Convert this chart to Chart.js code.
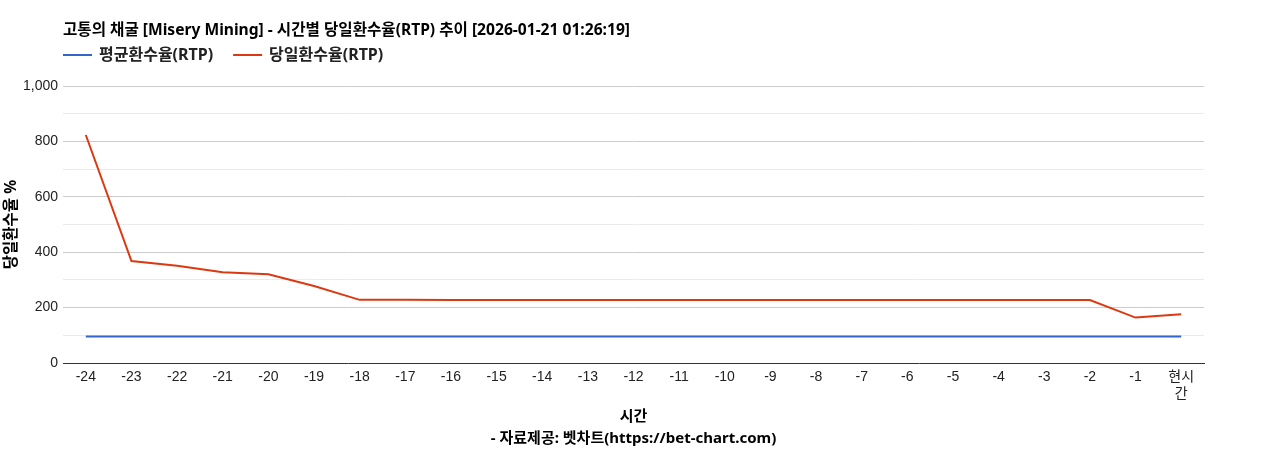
<!DOCTYPE html>
<html lang="ko">
<head>
    <meta charset="UTF-8">
    <title>고통의 채굴 - 시간별 당일환수율</title>
    <script src="https://cdn.jsdelivr.net/npm/chart.js"></script>
    <style>
        html, body { margin: 0; padding: 0; background: #fff; }
        #wrap { width: 1268px; height: 450px; position: relative; }
    </style>
</head>
<body>
    <div id="wrap">
        <canvas id="rtpChart" width="1268" height="450"></canvas>
    </div>

<script>
    var chartTitle = '고통의 채굴 [Misery Mining] - 시간별 당일환수율(RTP) 추이 [2026-01-21 01:26:19]';
    var xTitle = ['시간', '- 자료제공: 벳차트(https://bet-chart.com)'];
    var yTitle = '당일환수율 %';

    var hours = ['-24', '-23', '-22', '-21', '-20', '-19', '-18', '-17', '-16', '-15', '-14', '-13',
        '-12', '-11', '-10', '-9', '-8', '-7', '-6', '-5', '-4', '-3', '-2', '-1', ['현시', '간']];

    var avgLabel = '평균환수율(RTP)';
    var avgRtp = [96, 96, 96, 96, 96, 96, 96, 96, 96, 96, 96, 96,
        96, 96, 96, 96, 96, 96, 96, 96, 96, 96, 96, 96, 96];

    var dailyLabel = '당일환수율(RTP)';
    var dailyRtp = [823, 368, 351, 328, 320, 278, 228, 228, 227, 227, 227, 227,
        227, 227, 227, 227, 227, 227, 227, 227, 227, 227, 227, 164, 176];

    var krFont = '"Noto Sans", "Noto Sans CJK KR", sans-serif';
    var tickFont = 'Arial, "Liberation Sans", "Noto Sans CJK KR", sans-serif';

    // 제목 + 범례는 차트 영역 왼쪽에 맞춰 직접 그림
    var headerPlugin = {
        id: 'header',
        afterDraw: function (chart) {
            var ctx = chart.ctx;
            var left = chart.chartArea.left;
            ctx.save();
            ctx.fillStyle = '#000';
            ctx.textBaseline = 'middle';
            ctx.textAlign = 'left';
            ctx.font = 'bold 15.6px ' + krFont;
            ctx.fillText(chartTitle, left, 31);

            ctx.font = 'bold 16px ' + krFont;
            var x = left;
            chart.data.datasets.forEach(function (ds) {
                ctx.strokeStyle = ds.borderColor;
                ctx.lineWidth = 2;
                ctx.beginPath();
                ctx.moveTo(x, 55);
                ctx.lineTo(x + 29, 55);
                ctx.stroke();
                ctx.fillStyle = '#222';
                ctx.fillText(ds.label, x + 36, 55);
                x += 36 + ctx.measureText(ds.label).width + 20;
            });
            ctx.restore();
        }
    };

    var ctx = document.getElementById('rtpChart').getContext('2d');
    var myChart = new Chart(ctx, {
        type: 'line',
        data: {
            labels: hours,
            datasets: [{
                label: avgLabel,
                data: avgRtp,
                borderColor: '#3366cc',
                backgroundColor: '#3366cc',
                borderWidth: 2,
                pointRadius: 0,
                tension: 0
            }, {
                label: dailyLabel,
                data: dailyRtp,
                borderColor: '#dc3912',
                backgroundColor: '#dc3912',
                borderWidth: 2,
                pointRadius: 0,
                tension: 0
            }]
        },
        plugins: [headerPlugin],
        options: {
            responsive: false,
            animation: false,
            layout: {
                padding: { top: 86, right: 64, left: 0, bottom: 0 }
            },
            plugins: {
                legend: { display: false },
                title: { display: false },
                tooltip: { enabled: false }
            },
            scales: {
                x: {
                    offset: true,
                    grid: { display: false, drawTicks: false },
                    border: { display: true, color: '#333', width: 1 },
                    ticks: {
                        color: '#222',
                        font: { family: tickFont, size: 14 },
                        padding: 6,
                        maxRotation: 0,
                        autoSkip: false
                    },
                    title: {
                        display: true,
                        text: xTitle,
                        color: '#000',
                        font: { family: krFont, size: 15, weight: 'bold', lineHeight: 1.4667 },
                        padding: { top: 0, bottom: 0 }
                    },
                    afterFit: function (scale) { scale.height = 87; }
                },
                y: {
                    min: 0,
                    max: 1000,
                    grid: {
                        drawTicks: false,
                        color: function (c) {
                            if (c.tick && c.tick.value === 0) return 'rgba(0,0,0,0)';
                            return c.tick && c.tick.value % 200 === 0 ? '#cccccc' : '#ebebeb';
                        }
                    },
                    border: { display: false },
                    ticks: {
                        stepSize: 100,
                        color: '#222',
                        font: { family: tickFont, size: 14 },
                        padding: 5,
                        callback: function (v) {
                            return v % 200 === 0 ? v.toLocaleString('en-US') : '';
                        }
                    },
                    title: {
                        display: true,
                        text: yTitle,
                        color: '#000',
                        font: { family: krFont, size: 15.5, weight: 'bold' },
                        padding: { top: 2, bottom: 4 }
                    },
                    afterFit: function (scale) { scale.width = 63; }
                }
            }
        }
    });
</script>
</body>
</html>
